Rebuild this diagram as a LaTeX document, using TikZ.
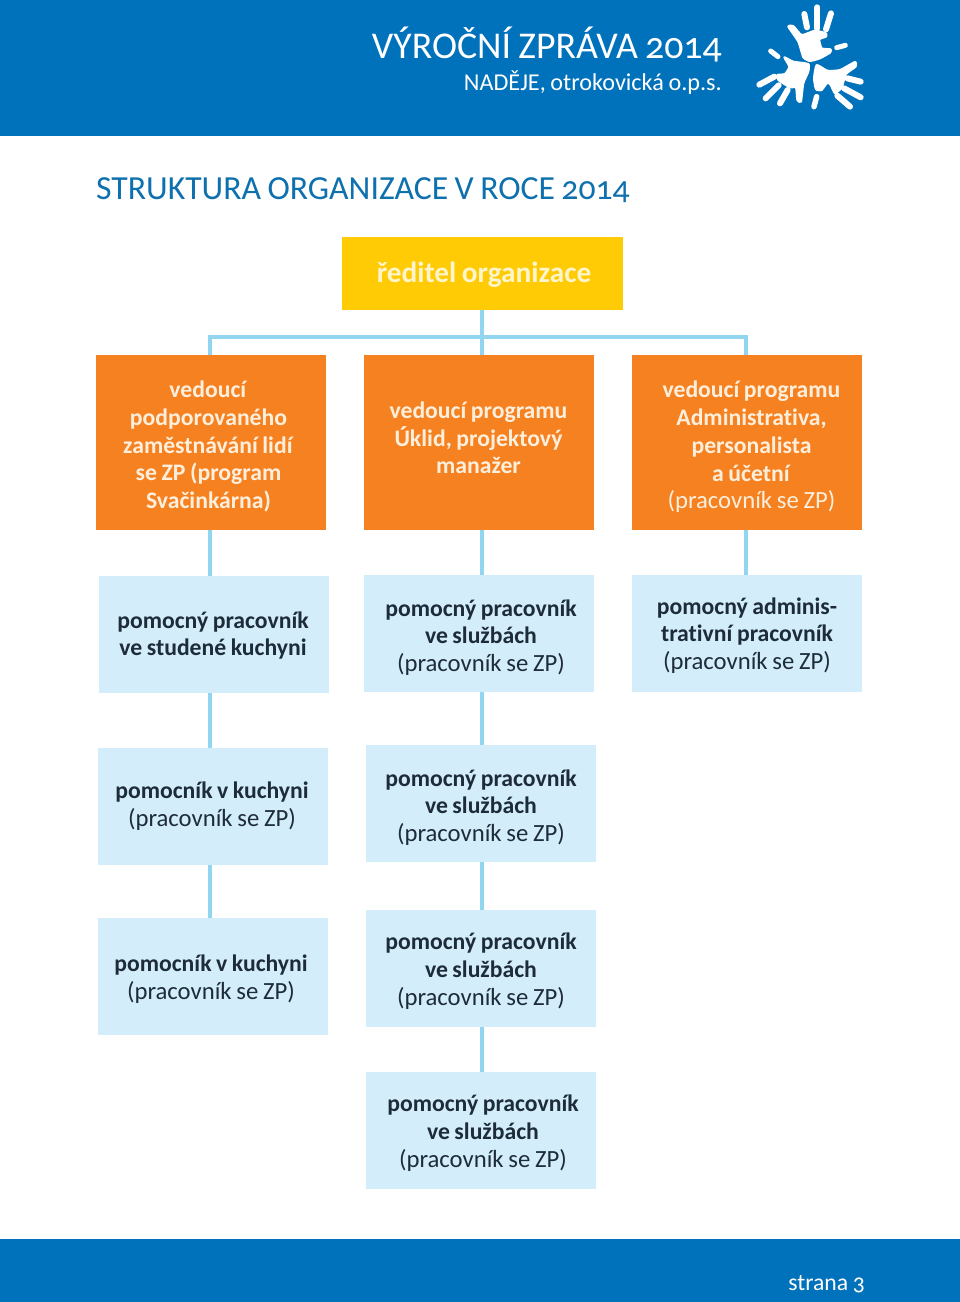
\documentclass[tikz,border=0pt]{standalone}
\usepackage{fontspec}
\setmainfont[Numbers=OldStyle,WordSpace=0.85,Ligatures=CommonOff]{Carlito}
\definecolor{hdr}{HTML}{0071BB}
\definecolor{ttl}{HTML}{0F70AE}
\definecolor{yel}{HTML}{FFCB05}
\definecolor{org}{HTML}{F68121}
\definecolor{pale}{HTML}{D3EEFA}
\definecolor{lnk}{HTML}{92D5F0}
\definecolor{ink}{HTML}{1E2C3A}
\definecolor{creamo}{HTML}{FDEFDC}
\definecolor{creamy}{HTML}{FFF5CC}
\tikzset{
 px/.style={x=1pt,y=-1pt},
 boxb/.style={anchor=north west,inner sep=0pt,outer sep=0pt},
 orangebox/.style={boxb,fill=org,minimum width=230pt,minimum height=175pt},
 palebox/.style={boxb,fill=pale,minimum width=230pt,minimum height=116.5pt},
 topbox/.style={boxb,fill=yel,minimum width=281pt,minimum height=73pt},
 lbl/.style={inner sep=0pt,outer sep=0pt,align=center,font=\fontsize{23.7}{27.7}\selectfont},
 lblo/.style={lbl,text=creamo},
 lblp/.style={lbl,text=ink},
 lbly/.style={lbl,text=creamy,font=\fontsize{29.3}{30}\selectfont\bfseries},
 linkline/.style={draw=lnk,line width=3.6pt},
 finger/.style={draw=white,line width=6pt,line cap=round},
 handfill/.style={fill=white,draw=white,line width=2pt,line join=round},
}
\newcommand{\sem}[1]{\textbf{#1}}
\newcommand{\reg}[1]{{\fontsize{24.7}{27.7}\selectfont #1}}
\begin{document}
\begin{tikzpicture}[px]
\useasboundingbox (0,0) rectangle (960,1302);
\fill[hdr] (0,0) rectangle (960,136);
\fill[hdr] (0,1239) rectangle (960,1302);
\node[anchor=base east,text=white,inner sep=0pt,font=\fontsize{37.8}{40}\selectfont] (t1) at (722,58.5) {VÝROČNÍ ZPRÁVA 2014};
\node[anchor=base east,text=white,inner sep=0pt,font=\fontsize{24.2}{28}\selectfont] (t2) at (722,90) {NADĚJE, otrokovická o.p.s.};
\node[anchor=base east,text=white,inner sep=0pt,font=\fontsize{23.7}{28}\selectfont] (t3) at (865,1290) {strana 3};
\node[anchor=base west,text=ttl,inner sep=0pt,font=\fontsize{33.7}{40}\selectfont] (t4) at (96,199.5) {STRUKTURA ORGANIZACE V ROCE 2014};
% logo
\begin{scope}[shift={(740,0)},x=0.3333pt,y=-0.3333pt]
 \fill[handfill] plot[smooth cycle,tension=0.3] coordinates {(145,80)(160,78)(185,105)(225,92)(258,100)(258,110)(238,118)(245,145)(272,148)(270,158)(240,175)(210,183)(190,172)(175,125)};
 \draw[finger] (193,42)--(201,82);
 \draw[finger] (232,22)--(232,85);
 \draw[finger] (273,40)--(258,88);
 \draw[finger,line width=5pt] (290,143)--(316,136);
 \fill[handfill] plot[smooth cycle,tension=0.3] coordinates {(133,172)(160,185)(205,192)(205,215)(190,250)(183,305)(172,300)(168,262)(150,262)(115,240)(112,225)(135,222)(148,200)};
 \draw[finger] (58,254)--(103,230);
 \draw[finger] (77,295)--(116,256);
 \draw[finger] (120,310)--(143,270);
 \draw[finger,line width=5pt] (92,153)--(114,170);
 \fill[handfill] plot[smooth cycle,tension=0.3] coordinates {(230,195)(262,212)(300,210)(345,186)(347,200)(318,222)(305,262)(285,280)(272,255)(262,248)(245,270)(228,268)(222,235)};
 \draw[finger] (322,235)--(362,245);
 \draw[finger] (312,265)--(362,292);
 \draw[finger] (292,287)--(330,320);
 \draw[finger,line width=5.5pt] (230,290)--(222,320);
\end{scope}
% junction coordinates
\coordinate (c1) at (210,337);
\coordinate (c2) at (482,337);
\coordinate (c3) at (746,337);
% boxes
\node[topbox] (dir) at (342,237) {};
\node[orangebox] (o1) at (96,355) {};
\node[orangebox] (o2) at (364,355) {};
\node[orangebox] (o3) at (632,355) {};
\node[palebox] (b1) at (99,576) {};
\node[palebox] (b2) at (364,575) {};
\node[palebox] (b3) at (632,575) {};
\node[palebox] (k1) at (98,748) {};
\node[palebox] (s1) at (366,745) {};
\node[palebox] (k2) at (98,918) {};
\node[palebox] (s2) at (366,910) {};
\node[palebox] (s3) at (366,1072) {};
% connectors
\draw[linkline] (o1.north -| c1) -- (c1) -- (c3) -- (o3.north -| c3);
\draw[linkline] (dir.south -| c2) -- (o2.north -| c2);
\draw[linkline] (o1.south -| c1) -- (b1.north -| c1);
\draw[linkline] (o2.south -| c2) -- (b2.north -| c2);
\draw[linkline] (o3.south -| c3) -- (b3.north -| c3);
\draw[linkline] (b1.south -| c1) -- (k1.north -| c1);
\draw[linkline] (b2.south -| c2) -- (s1.north -| c2);
\draw[linkline] (k1.south -| c1) -- (k2.north -| c1);
\draw[linkline] (s1.south -| c2) -- (s2.north -| c2);
\draw[linkline] (s2.south -| c2) -- (s3.north -| c2);
% texts
\node[lbly] (dirt) at (484,275) {ředitel organizace};
\node[lblo] (o1t) at (208.5,446.5) {\sem{vedoucí}\\\sem{podporovaného}\\\sem{zaměstnávání lidí}\\\sem{se ZP  (program}\\\sem{Svačinkárna)}};
\node[lblo] (o2t) at (478.5,438) {\sem{vedoucí programu}\\\sem{Úklid, projektový}\\\sem{manažer}};
\node[lblo] (o3t) at (751.5,447) {\sem{vedoucí programu}\\\sem{Administrativa,}\\\sem{personalista}\\\sem{a účetní}\\\reg{(pracovník se ZP)}};
\node[lblp] (b1t) at (213,635.5) {\sem{pomocný pracovník}\\\sem{ve studené kuchyni}};
\node[lblp] (b2t) at (481,637.5) {\sem{pomocný pracovník}\\\sem{ve službách}\\\reg{(pracovník se ZP)}};
\node[lblp] (b3t) at (747,635.5) {\sem{pomocný adminis-}\\\sem{trativní pracovník}\\\reg{(pracovník se ZP)}};
\node[lblp] (k1t) at (212,806.5) {\sem{pomocník v kuchyni}\\\reg{(pracovník se ZP)}};
\node[lblp] (s1t) at (481,807.5) {\sem{pomocný pracovník}\\\sem{ve službách}\\\reg{(pracovník se ZP)}};
\node[lblp] (k2t) at (211,979.5) {\sem{pomocník v kuchyni}\\\reg{(pracovník se ZP)}};
\node[lblp] (s2t) at (481,971) {\sem{pomocný pracovník}\\\sem{ve službách}\\\reg{(pracovník se ZP)}};
\node[lblp] (s3t) at (483,1133) {\sem{pomocný pracovník}\\\sem{ve službách}\\\reg{(pracovník se ZP)}};
\end{tikzpicture}
\end{document}
